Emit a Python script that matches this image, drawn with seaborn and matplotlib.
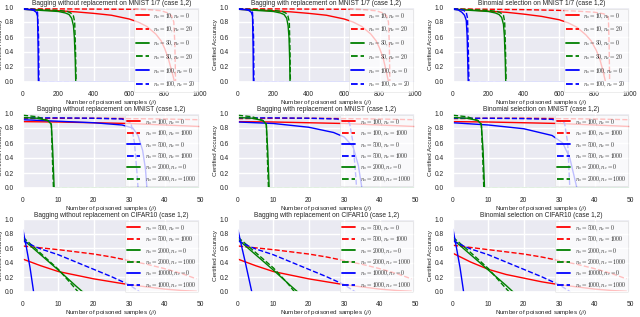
import numpy as np
import pandas as pd
import matplotlib
matplotlib.use("Agg")
import matplotlib.pyplot as plt
import seaborn as sns

# ---------------- data ----------------
titles = [
    ["Bagging without replacement on MNIST 1/7 (case 1,2)",
     "Bagging with replacement on MNIST 1/7 (case 1,2)",
     "Binomial selection on MNIST 1/7 (case 1,2)"],
    ["Bagging without replacement on MNIST (case 1,2)",
     "Bagging with replacement on MNIST (case 1,2)",
     "Binomial selection on MNIST (case 1,2)"],
    ["Bagging without replacement on CIFAR10 (case 1,2)",
     "Bagging with replacement on CIFAR10 (case 1,2)",
     "Binomial selection on CIFAR10 (case 1,2)"],
]

labels_row1 = [r"$n_s = 10, n_c = 0$", r"$n_s = 10, n_c = 20$",
               r"$n_s = 30, n_c = 0$", r"$n_s = 30, n_c = 20$",
               r"$n_s = 100, n_c = 0$", r"$n_s = 100, n_c = 20$"]
labels_row2 = [r"$n_s = 100, n_c = 0$", r"$n_s = 100, n_c = 1000$",
               r"$n_s = 500, n_c = 0$", r"$n_s = 500, n_c = 1000$",
               r"$n_s = 2000, n_c = 0$", r"$n_s = 2000, n_c = 1000$"]
labels_row3 = [r"$n_s = 500, n_c = 0$", r"$n_s = 500, n_c = 1000$",
               r"$n_s = 2000, n_c = 0$", r"$n_s = 2000, n_c = 1000$",
               r"$n_s = 10000, n_c = 0$", r"$n_s = 1000, n_c = 1000$"]

# Row 1: MNIST 1/7 -- each series is (x list, y list)
mnist17_bag_wo = [
    ([0, 100, 200, 300, 400, 500, 600, 650, 700, 750, 780, 800, 820, 840, 850, 856, 1000],
     [0.97, 0.96, 0.95, 0.935, 0.915, 0.89, 0.84, 0.80, 0.74, 0.64, 0.55, 0.45, 0.32, 0.15, 0.06, 0.0, 0.0]),
    ([0, 200, 400, 600, 700, 780, 820, 840, 852, 858, 862, 1000],
     [0.975, 0.975, 0.972, 0.97, 0.965, 0.95, 0.92, 0.88, 0.8, 0.5, 0.0, 0.0]),
    ([0, 100, 200, 240, 260, 275, 285, 290, 295, 298, 1000],
     [0.97, 0.955, 0.94, 0.92, 0.9, 0.85, 0.75, 0.6, 0.3, 0.0, 0.0]),
    ([0, 100, 200, 250, 270, 285, 292, 297, 300, 1000],
     [0.975, 0.965, 0.955, 0.94, 0.92, 0.88, 0.8, 0.4, 0.0, 0.0]),
    ([0, 40, 60, 75, 82, 85, 87, 1000],
     [0.97, 0.965, 0.955, 0.93, 0.88, 0.5, 0.0, 0.0]),
    ([0, 50, 70, 82, 88, 90, 1000],
     [0.975, 0.97, 0.96, 0.93, 0.6, 0.0, 0.0]),
]
mnist17_bag_w = [
    ([0, 100, 200, 300, 400, 500, 600, 650, 700, 750, 780, 800, 820, 835, 845, 851, 1000],
     [0.97, 0.96, 0.95, 0.935, 0.915, 0.89, 0.84, 0.80, 0.74, 0.64, 0.55, 0.45, 0.32, 0.17, 0.06, 0.0, 0.0]),
    ([0, 200, 400, 600, 700, 780, 820, 840, 850, 855, 858, 1000],
     [0.975, 0.975, 0.972, 0.97, 0.965, 0.95, 0.92, 0.88, 0.8, 0.5, 0.0, 0.0]),
    ([0, 100, 200, 240, 260, 275, 283, 288, 292, 294, 1000],
     [0.97, 0.955, 0.94, 0.92, 0.9, 0.85, 0.75, 0.6, 0.3, 0.0, 0.0]),
    ([0, 100, 200, 250, 270, 282, 290, 294, 296, 1000],
     [0.975, 0.965, 0.955, 0.94, 0.92, 0.88, 0.8, 0.4, 0.0, 0.0]),
    ([0, 40, 60, 75, 82, 85, 87, 1000],
     [0.97, 0.965, 0.955, 0.93, 0.88, 0.5, 0.0, 0.0]),
    ([0, 50, 70, 82, 88, 90, 1000],
     [0.975, 0.97, 0.96, 0.93, 0.6, 0.0, 0.0]),
]
mnist17_binom = [
    ([0, 100, 200, 300, 400, 500, 600, 650, 700, 750, 780, 810, 830, 845, 855, 862, 1000],
     [0.97, 0.96, 0.945, 0.93, 0.905, 0.875, 0.83, 0.79, 0.73, 0.63, 0.55, 0.42, 0.30, 0.17, 0.07, 0.0, 0.0]),
    ([0, 200, 400, 600, 700, 800, 850, 870, 878, 882, 885, 1000],
     [0.975, 0.97, 0.965, 0.955, 0.945, 0.93, 0.91, 0.89, 0.85, 0.5, 0.0, 0.0]),
    ([0, 100, 200, 240, 260, 275, 285, 290, 295, 298, 1000],
     [0.97, 0.955, 0.94, 0.92, 0.9, 0.86, 0.77, 0.62, 0.3, 0.0, 0.0]),
    ([0, 100, 200, 250, 270, 285, 292, 297, 300, 1000],
     [0.975, 0.965, 0.955, 0.94, 0.92, 0.89, 0.8, 0.4, 0.0, 0.0]),
    ([0, 30, 50, 65, 75, 80, 84, 86, 1000],
     [0.97, 0.96, 0.93, 0.89, 0.82, 0.6, 0.2, 0.0, 0.0]),
    ([0, 40, 60, 75, 82, 87, 90, 1000],
     [0.975, 0.97, 0.955, 0.93, 0.85, 0.4, 0.0, 0.0]),
]

# Row 2: MNIST
mnist_bag_wo = [
    ([0, 10, 20, 30, 40, 50], [0.885, 0.88, 0.87, 0.86, 0.84, 0.82]),
    ([0, 10, 20, 30, 40, 50], [0.925, 0.93, 0.93, 0.925, 0.92, 0.91]),
    ([0, 10, 20, 28, 31, 32.5, 33.8, 34.6, 35, 50],
     [0.91, 0.89, 0.87, 0.84, 0.80, 0.70, 0.5, 0.25, 0.0, 0.0]),
    ([0, 10, 20, 28, 30.5, 31.5, 32.2, 32.5, 50],
     [0.935, 0.935, 0.93, 0.92, 0.87, 0.6, 0.2, 0.0, 0.0]),
    ([0, 4, 7, 8, 8.4, 8.8, 50],
     [0.94, 0.93, 0.9, 0.85, 0.5, 0.0, 0.0]),
    ([0, 4, 7, 8, 8.3, 8.6, 50],
     [0.97, 0.95, 0.9, 0.85, 0.4, 0.0, 0.0]),
]
mnist_bag_w = [
    ([0, 10, 20, 30, 40, 50], [0.885, 0.88, 0.87, 0.86, 0.84, 0.82]),
    ([0, 10, 20, 30, 40, 50], [0.925, 0.93, 0.93, 0.925, 0.92, 0.91]),
    ([0, 10, 20, 27, 30, 32.5, 34, 35, 50],
     [0.88, 0.86, 0.81, 0.74, 0.68, 0.55, 0.3, 0.0, 0.0]),
    ([0, 10, 20, 28, 31.5, 32.5, 33.2, 33.5, 50],
     [0.935, 0.935, 0.93, 0.92, 0.87, 0.6, 0.2, 0.0, 0.0]),
    ([0, 4, 7, 8, 8.4, 8.8, 50],
     [0.94, 0.93, 0.9, 0.85, 0.5, 0.0, 0.0]),
    ([0, 4, 7, 8, 8.3, 8.6, 50],
     [0.97, 0.95, 0.9, 0.85, 0.4, 0.0, 0.0]),
]
mnist_binom = [
    ([0, 10, 20, 30, 40, 50], [0.885, 0.88, 0.87, 0.86, 0.84, 0.82]),
    ([0, 10, 20, 30, 40, 50], [0.925, 0.93, 0.93, 0.925, 0.92, 0.91]),
    ([0, 10, 20, 28, 31, 33, 34.5, 35, 50],
     [0.87, 0.84, 0.79, 0.70, 0.60, 0.40, 0.10, 0.0, 0.0]),
    ([0, 10, 20, 28, 31.5, 32.4, 32.8, 33, 50],
     [0.93, 0.93, 0.925, 0.915, 0.87, 0.6, 0.2, 0.0, 0.0]),
    ([0, 4, 7, 8, 8.5, 8.9, 50],
     [0.94, 0.93, 0.9, 0.85, 0.5, 0.0, 0.0]),
    ([0, 4, 7, 8, 8.4, 8.7, 50],
     [0.97, 0.95, 0.9, 0.85, 0.4, 0.0, 0.0]),
]

# Row 3: CIFAR10
cifar_bag_wo = [
    ([0, 5, 10, 15, 20, 25, 30, 35, 40, 45, 49],
     [0.45, 0.36, 0.28, 0.23, 0.18, 0.14, 0.10, 0.07, 0.04, 0.02, 0.01]),
    ([0, 5, 10, 15, 20, 25, 30, 35, 40, 45, 49],
     [0.63, 0.605, 0.58, 0.55, 0.52, 0.48, 0.43, 0.38, 0.32, 0.25, 0.18]),
    ([0, 5, 10, 15, 16.9], [0.72, 0.51, 0.30, 0.08, 0.0]),
    ([0, 5, 10, 14, 15.6], [0.75, 0.53, 0.31, 0.09, 0.0]),
    ([0, 1, 2, 2.7, 3.0], [0.85, 0.6, 0.33, 0.1, 0.0]),
    ([0, 3, 5, 10, 15, 20, 25, 30, 33], [0.70, 0.63, 0.59, 0.51, 0.41, 0.31, 0.21, 0.10, 0.0]),
]
cifar_bag_w = [
    ([0, 5, 10, 15, 20, 25, 30, 35, 40, 45, 49],
     [0.45, 0.36, 0.28, 0.23, 0.18, 0.14, 0.10, 0.07, 0.04, 0.02, 0.01]),
    ([0, 5, 10, 15, 20, 25, 30, 35, 40, 45, 49],
     [0.63, 0.605, 0.58, 0.55, 0.52, 0.48, 0.43, 0.38, 0.32, 0.25, 0.18]),
    ([0, 5, 10, 15, 16.9], [0.72, 0.51, 0.30, 0.08, 0.0]),
    ([0, 5, 10, 14, 16.0], [0.75, 0.54, 0.33, 0.12, 0.0]),
    ([0, 1, 2, 3, 3.9], [0.85, 0.63, 0.42, 0.2, 0.0]),
    ([0, 3, 5, 10, 15, 20, 25, 30, 33.2], [0.70, 0.63, 0.59, 0.51, 0.41, 0.31, 0.21, 0.10, 0.0]),
]
cifar_binom = [
    ([0, 5, 10, 15, 20, 25, 30, 35, 40, 45, 49],
     [0.53, 0.41, 0.31, 0.24, 0.19, 0.14, 0.10, 0.07, 0.04, 0.02, 0.01]),
    ([0, 5, 10, 15, 20, 25, 30, 35, 40, 45, 49],
     [0.64, 0.61, 0.58, 0.55, 0.52, 0.48, 0.43, 0.38, 0.32, 0.25, 0.18]),
    ([0, 5, 10, 15, 17.0], [0.72, 0.51, 0.30, 0.09, 0.0]),
    ([0, 5, 10, 14, 15.9], [0.75, 0.54, 0.32, 0.10, 0.0]),
    ([0, 1, 2, 2.7, 3.0], [0.86, 0.6, 0.33, 0.1, 0.0]),
    ([0, 3, 5, 10, 15, 20, 25, 30, 33.2], [0.70, 0.63, 0.59, 0.51, 0.41, 0.31, 0.21, 0.10, 0.0]),
]

panels = [[mnist17_bag_wo, mnist17_bag_w, mnist17_binom],
          [mnist_bag_wo, mnist_bag_w, mnist_binom],
          [cifar_bag_wo, cifar_bag_w, cifar_binom]]
row_labels = [labels_row1, labels_row2, labels_row3]
row_colors = [["red", "red", "green", "green", "blue", "blue"],
              ["red", "red", "blue", "blue", "green", "green"],
              ["red", "red", "green", "green", "blue", "blue"]]
row_xmax = [1000, 50, 50]
row_xticks = [[0, 200, 400, 600, 800, 1000], [0, 10, 20, 30, 40, 50], [0, 10, 20, 30, 40, 50]]

# ---------------- styling ----------------
dashed = [False, True, False, True, False, True]

sns.set_theme(style="darkgrid")
plt.rcParams["font.family"] = ["Liberation Sans", "DejaVu Sans"]
plt.rcParams["mathtext.fontset"] = "cm"

fig = plt.figure(figsize=(6.4, 3.17), dpi=100)
W, H = 640.0, 317.0
col_left = [23, 238, 453]
ax_w = 177
row_top = [7, 113, 219]
row_bot = [82, 188, 292]
legend_spacing = [0.72, 0.32, 0.32]

for r in range(3):
    for c in range(3):
        ax = fig.add_axes([col_left[c] / W, 1 - row_bot[r] / H, ax_w / W,
                           (row_bot[r] - row_top[r]) / H])
        for k, (xs, ys) in enumerate(panels[r][c]):
            df = pd.DataFrame({"x": xs, "y": ys})
            sns.lineplot(data=df, x="x", y="y", ax=ax, color=row_colors[r][k],
                         linewidth=1.0, label=row_labels[r][k],
                         linestyle="--" if dashed[k] else "-",
                         sort=False, estimator=None)
        ax.set_xlim(0, row_xmax[r])
        ax.set_ylim(0, 1.0)
        ax.set_xticks(row_xticks[r])
        ax.set_yticks([0.0, 0.2, 0.4, 0.6, 0.8, 1.0])
        ax.set_yticklabels(["0.0", "0.2", "0.4", "0.6", "0.8", "1.0"])
        ax.tick_params(labelsize=4.8, pad=0.8)
        ax.set_title(titles[r][c], fontsize=4.8, pad=1.5)
        ax.set_xlabel("Number of poisoned samples (" + r"$\rho$" + ")", fontsize=4.5, labelpad=0.2)
        ax.set_ylabel("Certified Accuracy", fontsize=4.6, labelpad=0.6)
        leg = ax.legend(loc="upper right", fontsize=4.1, frameon=True,
                        facecolor="white", framealpha=0.75, edgecolor="#dddddd",
                        labelspacing=legend_spacing[r], handlelength=2.3,
                        borderpad=0.4, borderaxespad=0.3)
        leg.get_frame().set_linewidth(0.5)
        for ln in leg.get_lines():
            ln.set_linewidth(1.3)

fig.savefig("out.png", dpi=100)
